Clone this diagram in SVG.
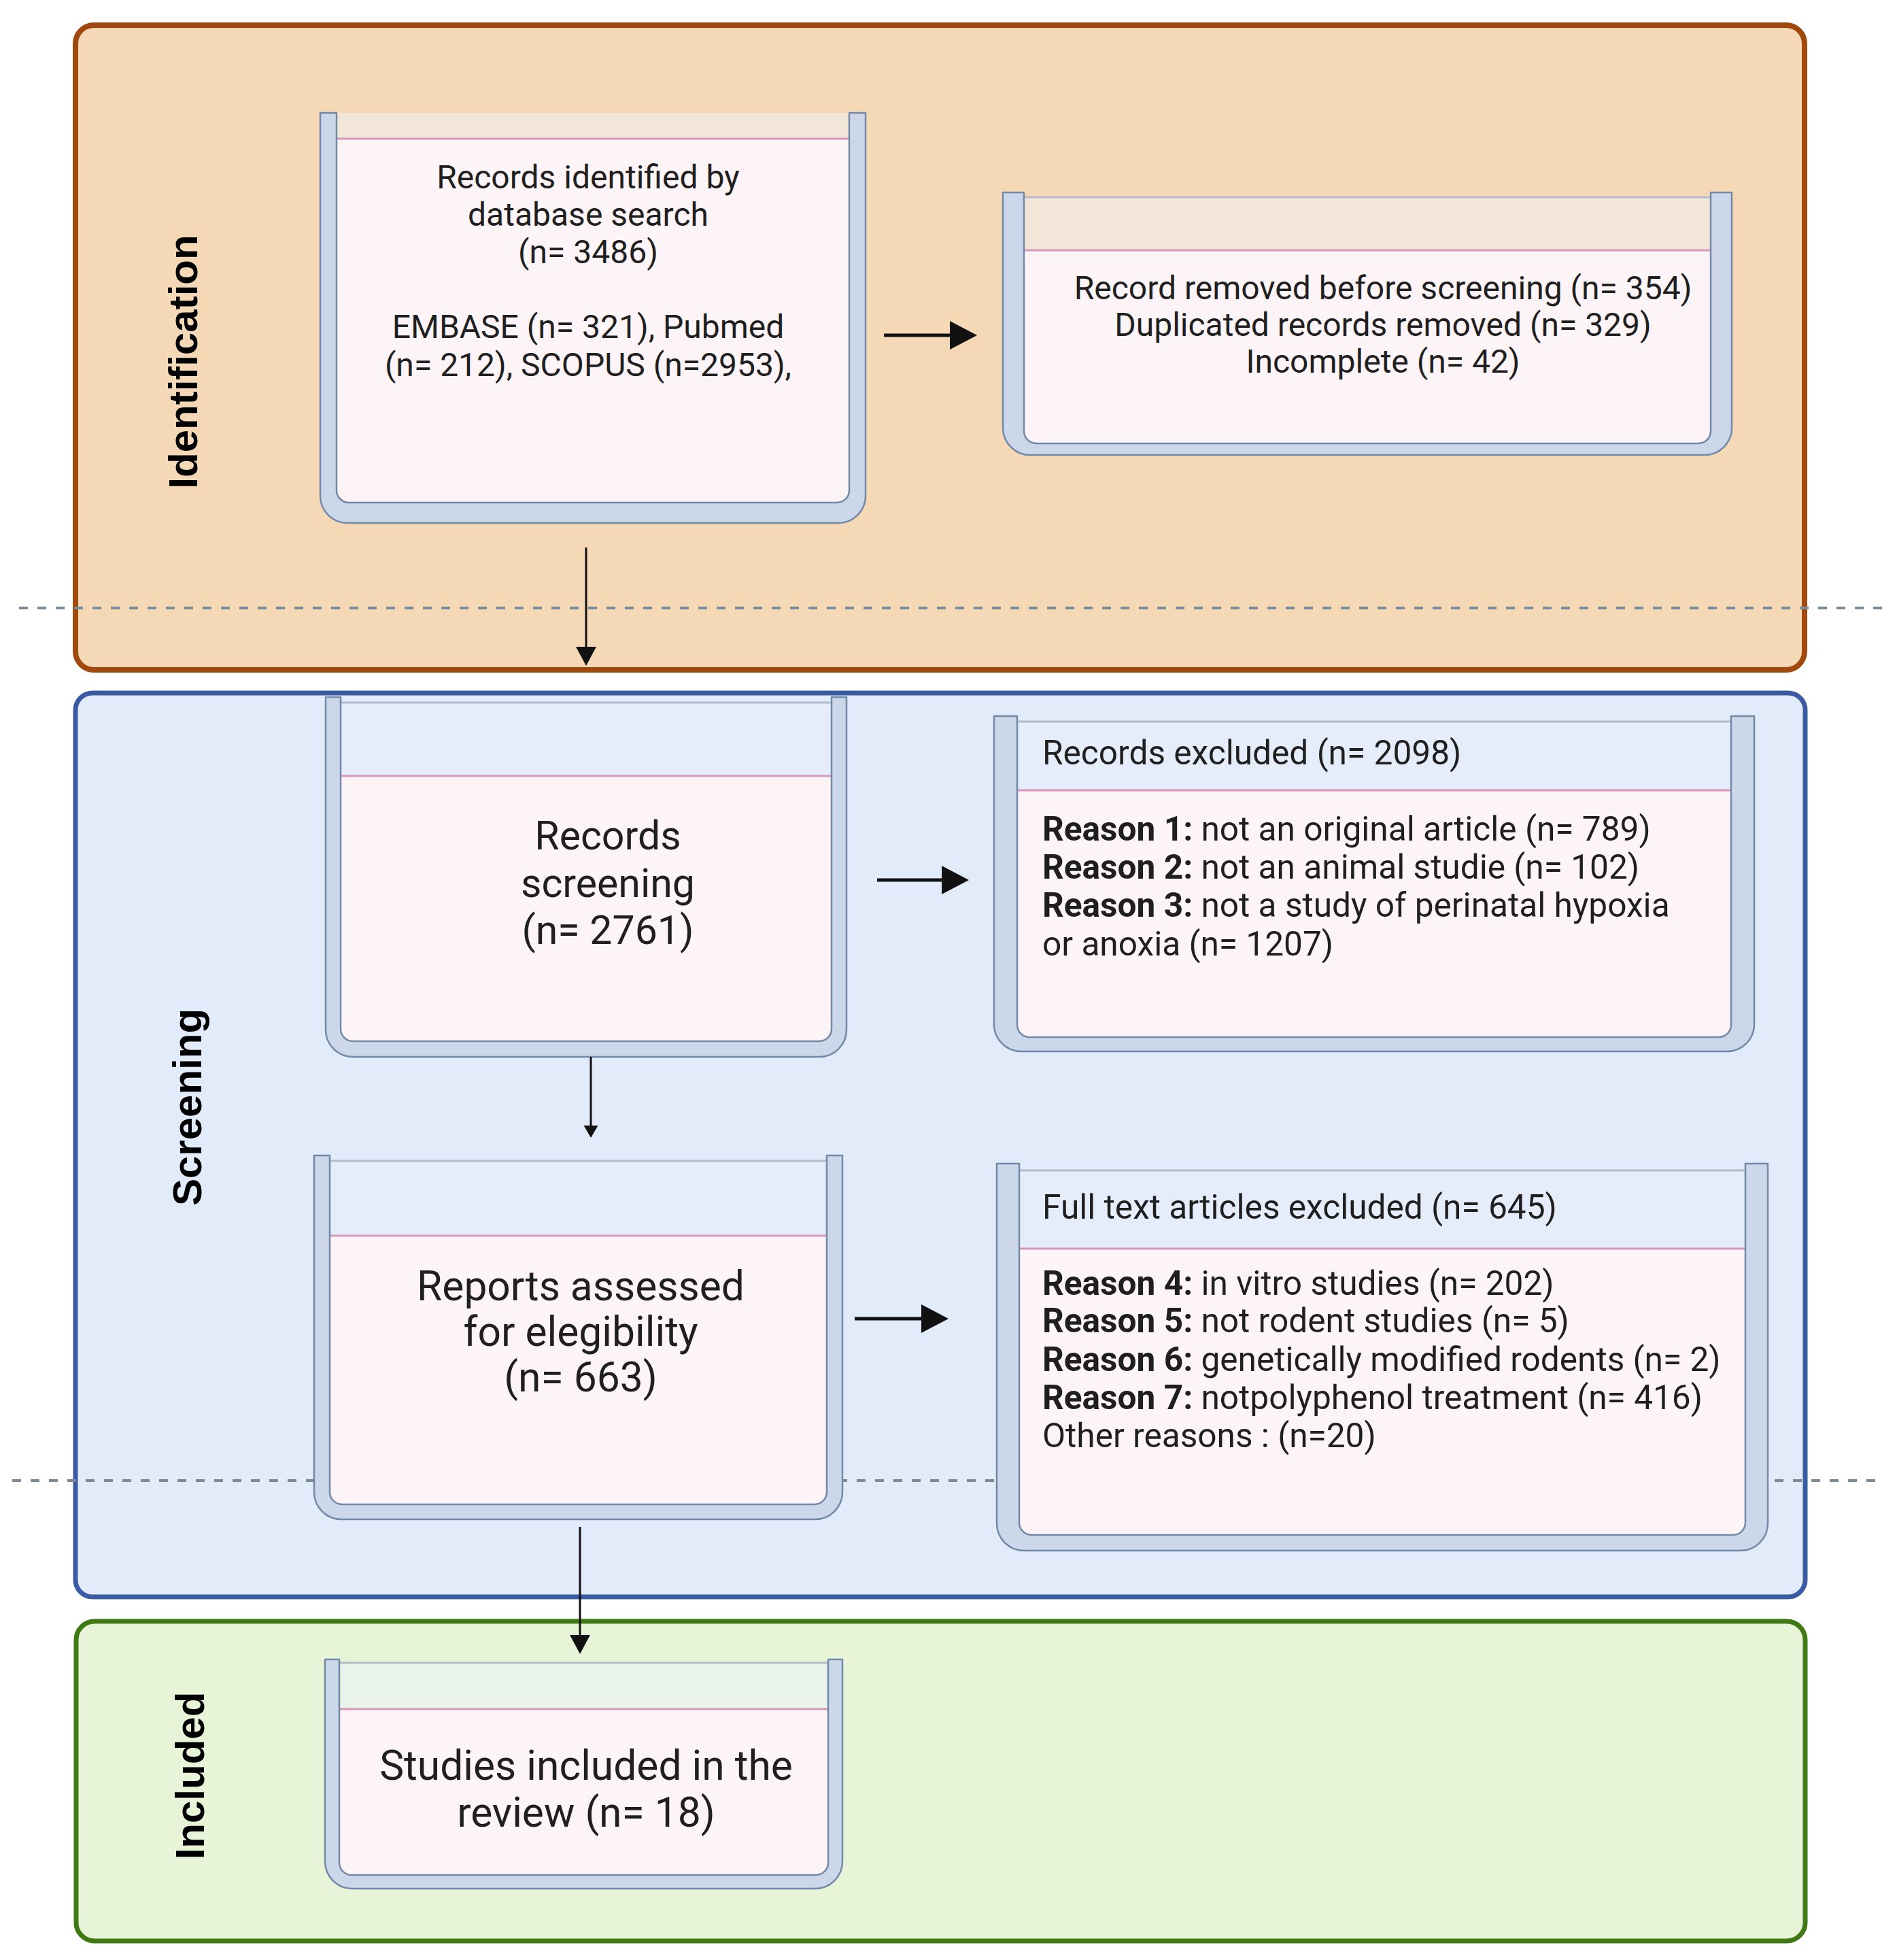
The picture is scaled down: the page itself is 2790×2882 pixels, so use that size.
<svg xmlns="http://www.w3.org/2000/svg" width="2790" height="2882" viewBox="0 0 2790 2882">
<style>
.panel{stroke-linejoin:round}
.wall{fill:#CCD7E9;stroke:#7389A8;stroke-width:2.5;stroke-linejoin:round}
.content{fill:#FDF4F7}
.hdrO{fill:#F1E6D8}
.hdrB{fill:#E5EDFB}
.hdrG{fill:#E9F3E9}
.pink{stroke:#D697B8;stroke-width:3;fill:none}
.gtop{stroke:#B3BCC8;stroke-width:3;fill:none}
.dash{stroke:#7A8A96;stroke-width:4;stroke-dasharray:13 14;fill:none}
.t{font-family:Roboto,"Liberation Sans",sans-serif;fill:#1F1F1F}
.s48{font-size:48px}
.s50{font-size:49.6px}
.s59{font-size:59px}
.s60{font-size:60.5px}
.c{text-anchor:middle}
.b{font-weight:700}
.phase{font-family:"Liberation Sans",Arial,sans-serif;font-weight:700;font-size:60px;fill:#000;text-anchor:middle}
.thick{stroke:#111;stroke-width:5;fill:none}
.thin{stroke:#111;stroke-width:3;fill:none}
</style>
<defs>
<marker id="hBig" markerUnits="userSpaceOnUse" markerWidth="40" markerHeight="42" refX="0" refY="21" orient="auto" viewBox="0 0 40 42"><path d="M0,0 L40,21 L0,42 Z" fill="#111"/></marker>
<marker id="hMid" markerUnits="userSpaceOnUse" markerWidth="28" markerHeight="30" refX="0" refY="15" orient="auto" viewBox="0 0 28 30"><path d="M0,0 L28,15 L0,30 Z" fill="#111"/></marker>
<marker id="hSmall" markerUnits="userSpaceOnUse" markerWidth="18" markerHeight="21" refX="0" refY="10.5" orient="auto" viewBox="0 0 18 21"><path d="M0,0 L18,10.5 L0,21 Z" fill="#111"/></marker>
</defs>
<rect width="2790" height="2882" fill="#FFFFFF"/>

<g id="phase-identification">
<rect class="panel" x="111" y="37" width="2543" height="948" rx="27" fill="#F5D9B6" stroke="#A0490F" stroke-width="8"/>
<text class="phase" transform="translate(290,532) rotate(-90)">Identification</text>
</g>
<g id="phase-screening">
<rect class="panel" x="111" y="1019" width="2544" height="1329" rx="25" fill="#E1EBFA" stroke="#3A5BA3" stroke-width="7"/>
<text class="phase" transform="translate(296,1628) rotate(-90)">Screening</text>
</g>
<g id="phase-included">
<rect class="panel" x="112" y="2384" width="2543" height="470" rx="27" fill="#E8F4D8" stroke="#3F7A14" stroke-width="7"/>
<text class="phase" transform="translate(300,2611) rotate(-90)">Included</text>
</g>

<g id="dividers">
<path class="dash" d="M28,894 H2770"/>
<path class="dash" d="M18,2177 H2770"/>
</g>

<g id="box-identified">
<path class="content" d="M495,166 V721 A18 18 0 0 0 513,739 H1231 A18 18 0 0 0 1249,721 V166 Z"/>
<rect class="hdrO" x="495" y="166" width="754" height="38"/>
<path class="pink" d="M495,204 H1249"/>
<path class="wall" d="M471,166 H495 V721 A18 18 0 0 0 513,739 H1231 A18 18 0 0 0 1249,721 V166 H1273 V729 A40 40 0 0 1 1233,769 H511 A40 40 0 0 1 471,729 Z"/>
<text class="t s48 c" x="865" y="277">Records identified by</text>
<text class="t s48 c" x="865" y="332">database search</text>
<text class="t s48 c" x="865" y="387">(n= 3486)</text>
<text class="t s48 c" x="865" y="497">EMBASE (n= 321), Pubmed</text>
<text class="t s48 c" x="865" y="553">(n= 212), SCOPUS (n=2953),</text>
</g>

<g id="box-removed">
<path class="content" d="M1506,290 V634 A18 18 0 0 0 1524,652 H2498 A18 18 0 0 0 2516,634 V290 Z"/>
<rect class="hdrO" x="1506" y="290" width="1010" height="78"/>
<path class="gtop" d="M1506,290 H2516"/>
<path class="pink" d="M1506,368 H2516"/>
<path class="wall" d="M1475,283 H1506 V634 A18 18 0 0 0 1524,652 H2498 A18 18 0 0 0 2516,634 V283 H2547 V629 A40 40 0 0 1 2507,669 H1515 A40 40 0 0 1 1475,629 Z"/>
<text class="t s48 c" x="2034" y="440">Record removed before screening (n= 354)</text>
<text class="t s48 c" x="2034" y="494">Duplicated records removed (n= 329)</text>
<text class="t s48 c" x="2034" y="548">Incomplete (n= 42)</text>
</g>

<g id="box-screening">
<path class="content" d="M501,1033 V1513 A18 18 0 0 0 519,1531 H1205 A18 18 0 0 0 1223,1513 V1033 Z"/>
<rect class="hdrB" x="501" y="1033" width="722" height="108"/>
<path class="gtop" d="M501,1033 H1223"/>
<path class="pink" d="M501,1141 H1223"/>
<path class="wall" d="M479,1025 H501 V1513 A18 18 0 0 0 519,1531 H1205 A18 18 0 0 0 1223,1513 V1025 H1245 V1514 A40 40 0 0 1 1205,1554 H519 A40 40 0 0 1 479,1514 Z"/>
<text class="t s59 c" x="894" y="1249">Records</text>
<text class="t s59 c" x="894" y="1319">screening</text>
<text class="t s59 c" x="894" y="1388">(n= 2761)</text>
</g>

<g id="box-excluded">
<path class="content" d="M1496,1061 V1507 A18 18 0 0 0 1514,1525 H2528 A18 18 0 0 0 2546,1507 V1061 Z"/>
<rect class="hdrB" x="1496" y="1061" width="1050" height="101"/>
<path class="gtop" d="M1496,1061 H2546"/>
<path class="pink" d="M1496,1162 H2546"/>
<path class="wall" d="M1462,1053 H1496 V1507 A18 18 0 0 0 1514,1525 H2528 A18 18 0 0 0 2546,1507 V1053 H2580 V1506 A40 40 0 0 1 2540,1546 H1502 A40 40 0 0 1 1462,1506 Z"/>
<text class="t s50" x="1533" y="1124">Records excluded (n= 2098)</text>
<text class="t s50" x="1533" y="1236"><tspan class="b">Reason 1:</tspan> not an original article (n= 789)</text>
<text class="t s50" x="1533" y="1292"><tspan class="b">Reason 2:</tspan> not an animal studie (n= 102)</text>
<text class="t s50" x="1533" y="1348"><tspan class="b">Reason 3:</tspan> not a study of perinatal hypoxia</text>
<text class="t s50" x="1533" y="1405">or anoxia (n= 1207)</text>
</g>

<g id="box-assessed">
<path class="content" d="M485,1707 V2194 A18 18 0 0 0 503,2212 H1198 A18 18 0 0 0 1216,2194 V1707 Z"/>
<rect class="hdrB" x="485" y="1707" width="731" height="110"/>
<path class="gtop" d="M485,1707 H1216"/>
<path class="pink" d="M485,1817 H1216"/>
<path class="wall" d="M462,1699 H485 V2194 A18 18 0 0 0 503,2212 H1198 A18 18 0 0 0 1216,2194 V1699 H1239 V2194 A40 40 0 0 1 1199,2234 H502 A40 40 0 0 1 462,2194 Z"/>
<text class="t s60 c" x="854" y="1912">Reports assessed</text>
<text class="t s60 c" x="854" y="1979">for elegibility</text>
<text class="t s60 c" x="854" y="2046">(n= 663)</text>
</g>

<g id="box-fulltext-excluded">
<path class="content" d="M1499,1721 V2239 A18 18 0 0 0 1517,2257 H2549 A18 18 0 0 0 2567,2239 V1721 Z"/>
<rect class="hdrB" x="1499" y="1721" width="1068" height="115"/>
<path class="gtop" d="M1499,1721 H2567"/>
<path class="pink" d="M1499,1836 H2567"/>
<path class="wall" d="M1466,1711 H1499 V2239 A18 18 0 0 0 1517,2257 H2549 A18 18 0 0 0 2567,2239 V1711 H2600 V2240 A40 40 0 0 1 2560,2280 H1506 A40 40 0 0 1 1466,2240 Z"/>
<text class="t s50" x="1533" y="1792">Full text articles excluded (n= 645)</text>
<text class="t s50" x="1533" y="1904"><tspan class="b">Reason 4:</tspan> in vitro studies (n= 202)</text>
<text class="t s50" x="1533" y="1959"><tspan class="b">Reason 5:</tspan> not rodent studies (n= 5)</text>
<text class="t s50" x="1533" y="2016"><tspan class="b">Reason 6:</tspan> genetically modified rodents (n= 2)</text>
<text class="t s50" x="1533" y="2072"><tspan class="b">Reason 7:</tspan> notpolyphenol treatment (n= 416)</text>
<text class="t s50" x="1533" y="2128">Other reasons : (n=20)</text>
</g>

<g id="box-included">
<path class="content" d="M499,2445 V2739 A18 18 0 0 0 517,2757 H1200 A18 18 0 0 0 1218,2739 V2445 Z"/>
<rect class="hdrG" x="499" y="2445" width="719" height="68"/>
<path class="gtop" d="M499,2445 H1218"/>
<path class="pink" d="M499,2513 H1218"/>
<path class="wall" d="M478,2440 H499 V2739 A18 18 0 0 0 517,2757 H1200 A18 18 0 0 0 1218,2739 V2440 H1239 V2737 A40 40 0 0 1 1199,2777 H518 A40 40 0 0 1 478,2737 Z"/>
<text class="t s60 c" x="862" y="2617">Studies included in the</text>
<text class="t s60 c" x="862" y="2686">review (n= 18)</text>
</g>

<g id="connectors">
<path class="thick" d="M1300,493 H1397" marker-end="url(#hBig)"/>
<path class="thin" d="M862,805 V951" marker-end="url(#hMid)"/>
<path class="thick" d="M1290,1294 H1385" marker-end="url(#hBig)"/>
<path class="thin" d="M869,1554 V1655" marker-end="url(#hSmall)"/>
<path class="thick" d="M1257,1939 H1355" marker-end="url(#hBig)"/>
<path class="thin" d="M853,2245 V2404" marker-end="url(#hMid)"/>
</g>
</svg>
